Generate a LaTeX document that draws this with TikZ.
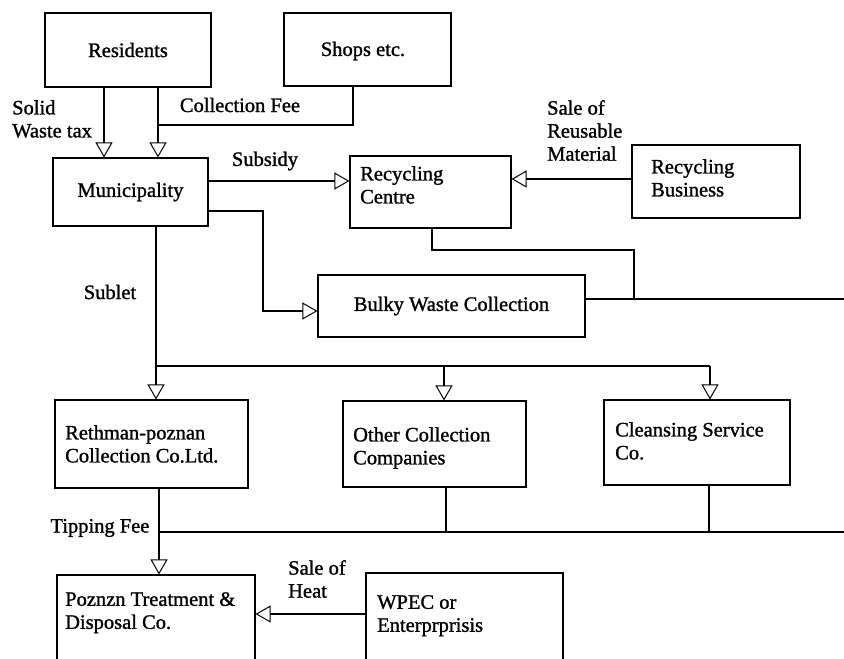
\documentclass[tikz,border=0pt]{standalone}
\usepackage{fontspec}
\setmainfont{Liberation Serif}
\newfontface\diagfont[FakeBold=1.2]{Liberation Serif}
\usetikzlibrary{arrows.meta}
\begin{document}
\begin{tikzpicture}[x=1pt,y=-1pt,
  box/.style={draw, line width=1.1pt, inner sep=0pt, font=\diagfont\fontsize{20.5}{23}\selectfont},
  txt/.style={inner sep=0pt, font=\diagfont\fontsize{20.5}{23}\selectfont, align=left},
  arr/.style={-{Triangle[open,length=15pt,width=17pt,line width=1pt]}},
  ln/.style={line width=1.1pt}]
\path[use as bounding box] (0,0) rectangle (844,659);
\clip (0,0) rectangle (844,659);
\fill[white] (0,0) rectangle (844,659);

% boxes
\node[box, minimum width=166pt, minimum height=74pt] (res) at (128,50) {Residents};
\node[box, minimum width=167pt, minimum height=73pt] (shops) at (367.5,49.5) {};
\node[txt] (shopst) at (363,51) {Shops etc.};
\node[box, minimum width=155pt, minimum height=68pt] (mun) at (130.5,192) {Municipality};
\node[box, minimum width=161pt, minimum height=72pt] (rc) at (430.5,192) {};
\node[txt, anchor=north west] (rct) at (360,166) {Recycling\\Centre};
\node[box, minimum width=168pt, minimum height=73pt] (rb) at (716,181.5) {};
\node[txt, anchor=north west] (rbt) at (651,159) {Recycling\\Business};
\node[box, minimum width=267pt, minimum height=62pt] (bulky) at (451.5,306) {Bulky Waste Collection};
\node[box, minimum width=193pt, minimum height=88pt] (reth) at (151.5,444) {};
\node[txt, anchor=north west] (retht) at (65,425) {Rethman-poznan\\Collection Co.Ltd.};
\node[box, minimum width=183pt, minimum height=86pt] (other) at (434.5,444) {};
\node[txt, anchor=north west] (othert) at (353,427) {Other Collection\\Companies};
\node[box, minimum width=186pt, minimum height=85pt] (clean) at (697,442.5) {};
\node[txt, anchor=north west] (cleant) at (615,422) {Cleansing Service\\Co.};
\node[box, minimum width=198pt, minimum height=95pt] (pozn) at (156,622.5) {};
\node[txt, anchor=north west] (poznt) at (65,592) {Poznzn Treatment \&\\Disposal Co.};
\node[box, minimum width=197pt, minimum height=97pt] (wpec) at (464.5,621.5) {};
\node[txt, anchor=north west] (wpect) at (377,595) {WPEC or\\Enterprprisis};

% labels
\node[txt, anchor=north west] (l1) at (12,100) {Solid\\Waste tax};
\node[txt] (l2) at (240,105) {Collection Fee};
\node[txt] (l3) at (265,161) {Subsidy};
\node[txt, anchor=north west] (l4) at (547,100) {Sale of\\Reusable\\Material};
\node[txt] (l5) at (110,292) {Sublet};
\node[txt] (l6) at (100,528) {Tipping Fee};
\node[txt, anchor=north west] (l7) at (288,560) {Sale of\\Heat};

% connectors
\coordinate (j1) at (158,125);
\draw[ln,arr] (shops.south -| 353,0) |- (j1) -- (mun.north -| j1);
\draw[ln] (res.south -| j1) -- (j1);
\draw[ln,arr] (res.south -| 104,0) -- (mun.north -| 104,0);
\draw[ln,arr] (mun.east |- 0,181) -- (rc.west |- 0,181);
\draw[ln,arr] (rb.west |- 0,179) -- (rc.east |- 0,179);
\coordinate (b1) at (263,211);
\draw[ln,arr] (mun.east |- b1) -- (b1) |- (bulky.west |- 0,311);
\coordinate (j5) at (634,250);
\coordinate (e1) at (850,299);
\draw[ln] (bulky.east |- e1) -- (e1);
\draw[ln] (rc.south -| 432,0) |- (j5) -- (j5 |- e1);
\coordinate (j2) at (156,366);
\coordinate (j3) at (710,366);
\coordinate (j4) at (444,366);
\draw[ln,arr] (mun.south -| j2) -- (reth.north -| j2);
\draw[ln] (j2) -- (j3);
\draw[ln,arr] (j4) -- (other.north -| j4);
\draw[ln,arr] (j3) -- (clean.north -| j3);
\coordinate (k1) at (159,532);
\coordinate (e2) at (850,532);
\draw[ln,arr] (reth.south -| k1) -- (pozn.north -| k1);
\draw[ln] (k1) -- (e2);
\draw[ln] (other.south -| 446,0) -- (k1 -| 446,0);
\draw[ln] (clean.south -| 709,0) -- (k1 -| 709,0);
\draw[ln,arr] (wpec.west |- 0,614) -- (pozn.east |- 0,614);
\end{tikzpicture}
\end{document}
